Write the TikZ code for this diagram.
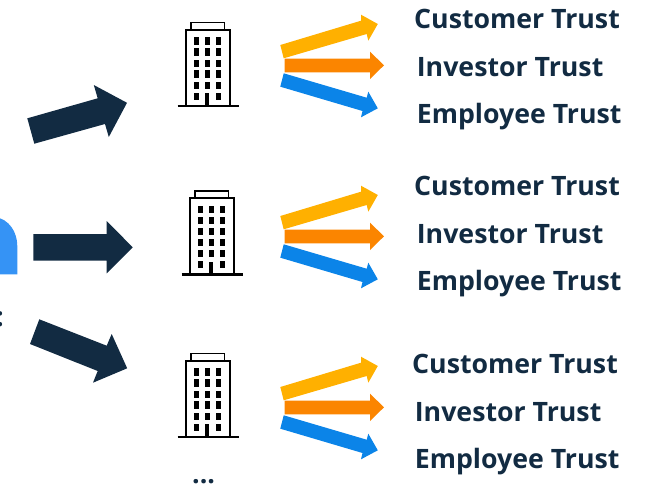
\documentclass[tikz,border=0pt]{standalone}
\usepackage{fontspec}
\setmainfont{Open Sans}
\definecolor{navy}{HTML}{122B42}
\definecolor{amber}{HTML}{FFB000}
\definecolor{orng}{HTML}{FB8500}
\definecolor{azure}{HTML}{0B84E8}
\definecolor{sky}{HTML}{3593F5}
\tikzset{
  lab/.style={anchor=base west,inner sep=0pt,font=\fontsize{26.7}{30}\selectfont\bfseries,text=navy},
  bigarrow/.style={fill=navy,draw=none},
  pics/building/.style={code={
    \draw[line width=2.1pt] (-30.5,0) -- (30.5,0);
    \draw[line width=1.9pt] (-22.3,0) -- (-22.3,-76.3) -- (22,-76.3) -- (22,0);
    \draw[line width=1.5pt] (-17,-76.3) -- (-17,-83.3) -- (16.3,-83.3) -- (16.3,-76.3);
    \foreach \x in {-11.7,-0.7,10.7}\foreach \y in {-65,-54,-42.7,-32,-20.7}
      \fill (\x-2.6,\y-3.6) rectangle (\x+2.6,\y+3.6);
    \foreach \x in {-11.7,10.7}\fill (\x-2.6,-9.7-3.6) rectangle (\x+2.6,-9.7+3.6);
    \fill (-2.8,-13) rectangle (1.4,0);
  }},
  pics/trio/.style={code={
    \fill[amber] (280.3,45) -- (361,20.7) -- (361,14.7) -- (377.8,24) -- (368.3,40.7) -- (366.7,34) -- (283.7,58.3) -- cycle;
    \fill[azure] (283.7,73.3) -- (366.7,97.7) -- (368.3,91.7) -- (377.8,108.3) -- (361,117.3) -- (362.5,111) -- (280.3,86.7) -- cycle;
    \fill[orng] (284.7,58.7) -- (370,58.7) -- (370,51.7) -- (384,65.3) -- (370,79) -- (370,72.3) -- (284.7,72.3) -- cycle;
  }}
}
\begin{document}
\begin{tikzpicture}[x=1pt,y=-1pt]
\useasboundingbox (0,0) rectangle (648,485);
% left shape
\fill[sky] (-5,274.3) -- (17.3,274.3) -- (17.3,246) .. controls (17.3,232) and (9,219) .. (-5,217) -- cycle;
\node[anchor=base east,inner sep=0pt,font=\fontsize{26.7}{30}\selectfont\bfseries,text=navy] (colon) at (4,326) {:};
% big arrows
\fill[bigarrow] (27.3,118.3) -- (97.7,98.3) -- (93.8,85) -- (127,102.8) -- (108.8,137) -- (105,124) -- (34.3,143.7) -- cycle;
\fill[bigarrow] (33.3,234) -- (106.7,234) -- (106.7,221) -- (132.7,247.3) -- (106.7,273.3) -- (106.7,260.7) -- (33.3,260.7) -- cycle;
\fill[bigarrow] (39.3,319.3) -- (106.7,345.7) -- (111.7,334) -- (127.2,368.3) -- (93,382.7) -- (97.7,371) -- (30,344) -- cycle;
% buildings
\pic at (208,106) {building};
\pic at (212,274.5) {building};
\pic at (208,437) {building};
% arrow trios
\pic at (0,0) {trio};
\pic at (0,171) {trio};
\pic at (0,342) {trio};
% labels
\node[lab] (c1) at (414,28) {Customer Trust};
\node[lab] (i1) at (416.7,76.5) {Investor Trust};
\node[lab] (e1) at (416.7,123.5) {Employee Trust};
\node[lab] (c2) at (414,195) {Customer Trust};
\node[lab] (i2) at (416.7,243.5) {Investor Trust};
\node[lab] (e2) at (416.7,290.5) {Employee Trust};
\node[lab] (c3) at (412,373) {Customer Trust};
\node[lab] (i3) at (414.7,421.5) {Investor Trust};
\node[lab] (e3) at (414.7,468.5) {Employee Trust};
\node[lab] (dots) at (192,483) {...};
\end{tikzpicture}
\end{document}
